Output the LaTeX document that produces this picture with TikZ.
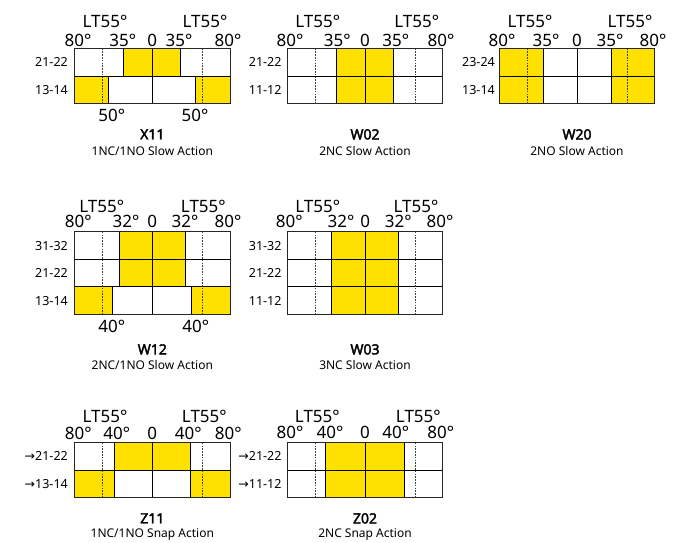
\documentclass[tikz,border=0pt]{standalone}
\usepackage{fontspec}
\setmainfont{Noto Sans}
\newfontfamily\arrowfont{DejaVu Sans}
\newfontfamily\titlefont{Noto Sans}[FakeBold=2.5]
\definecolor{yel}{RGB}{255,225,0}
\tikzset{
 yc/.style={fill=yel,draw=black,line width=0.9pt},
 frame/.style={draw=black!85,line width=0.9pt},
 gridl/.style={draw=black,line width=0.9pt},
 dots/.style={draw=black!75,line width=0.7pt,dash pattern=on 1.6pt off 1.2pt},
 big/.style={font=\fontsize{17}{17}\selectfont,inner sep=0pt,text depth=0pt},
 rowlab/.style={font=\fontsize{12.5}{12.5}\selectfont,inner sep=0pt,anchor=east,text depth=0pt},
 ttl/.style={font=\titlefont\fontsize{14}{14}\selectfont,inner sep=0pt,text depth=0pt},
 sub/.style={font=\fontsize{12}{12}\selectfont,inner sep=0pt,text depth=0pt},
}
\newcommand{\boxbase}[1]{% #1 = number of rows
  \fill[white] (-77.75,0) rectangle (77.75,#1*27.5);
}
\newcommand{\boxlines}[1]{%
  \draw[gridl] (0,0) -- (0,#1*27.5);
  \foreach \r in {1,...,#1}{\ifnum\r<#1 \draw[gridl] (-77.75,\r*27.5) -- (77.75,\r*27.5);\fi}
  \draw[frame] (-77.75,0) rectangle (77.75,#1*27.5);
  \draw[dots] (-50,0) -- (-50,#1*27.5);
  \draw[dots] (50,0) -- (50,#1*27.5);
}
\begin{document}
\begin{tikzpicture}[x=1pt,y=-1pt]
\useasboundingbox (0,0) rectangle (680,543);
\fill[white] (0,0) rectangle (680,543);

% ---------- X11 ----------
\begin{scope}[shift={(152.3,48.7)}]
  \boxbase{2}
  \draw[yc] (-28.5,0) rectangle (28.5,27.5);
  \draw[yc] (-77.75,27.5) rectangle (-44,55);
  \draw[yc] (43.5,27.5) rectangle (77.75,55);
  \boxlines{2}
\end{scope}
\node[big] (x11a) at (105,21.5) {LT55°};
\node[big] (x11b) at (205,21.5) {LT55°};
\node[big] (x11c) at (78,40) {80°};
\node[big] (x11d) at (122.7,40) {35°};
\node[big] (x11e) at (152.3,40) {0};
\node[big] (x11f) at (179,40) {35°};
\node[big] (x11g) at (228,40) {80°};
\node[rowlab] (x11r1) at (68,62.4) {21-22};
\node[rowlab] (x11r2) at (68,90) {13-14};
\node[big] (x11h) at (111.7,115) {50°};
\node[big] (x11i) at (195,115) {50°};
\node[ttl] (x11t) at (152.3,134.3) {X11};
\node[sub] (x11s) at (152.3,150.7) {1NC/1NO Slow Action};

% ---------- W02 ----------
\begin{scope}[shift={(365,48.7)}]
  \boxbase{2}
  \draw[yc] (-28.5,0) rectangle (28.5,27.5);
  \draw[yc] (-28.5,27.5) rectangle (28.5,55);
  \boxlines{2}
\end{scope}
\node[big] (w02a) at (317.7,21.5) {LT55°};
\node[big] (w02b) at (416.7,21.5) {LT55°};
\node[big] (w02c) at (290,40) {80°};
\node[big] (w02d) at (337.3,40) {35°};
\node[big] (w02e) at (365,40) {0};
\node[big] (w02f) at (395.7,40) {35°};
\node[big] (w02g) at (441,40) {80°};
\node[rowlab] (w02r1) at (281.7,62.4) {21-22};
\node[rowlab] (w02r2) at (281.7,90) {11-12};
\node[ttl] (w02t) at (365,134.3) {W02};
\node[sub] (w02s) at (365,150.7) {2NC Slow Action};

% ---------- W20 ----------
\begin{scope}[shift={(577,48.7)}]
  \boxbase{2}
  \draw[yc] (-77.75,0) rectangle (-34,27.5);
  \draw[yc] (34.5,0) rectangle (77.75,27.5);
  \draw[yc] (-77.75,27.5) rectangle (-34,55);
  \draw[yc] (34.5,27.5) rectangle (77.75,55);
  \boxlines{2}
\end{scope}
\node[big] (w20a) at (530,21.5) {LT55°};
\node[big] (w20b) at (630,21.5) {LT55°};
\node[big] (w20c) at (502,40) {80°};
\node[big] (w20d) at (546,40) {35°};
\node[big] (w20e) at (577,40) {0};
\node[big] (w20f) at (610,40) {35°};
\node[big] (w20g) at (653,40) {80°};
\node[rowlab] (w20r1) at (495,62.4) {23-24};
\node[rowlab] (w20r2) at (495,90) {13-14};
\node[ttl] (w20t) at (577,134.3) {W20};
\node[sub] (w20s) at (577,150.7) {2NO Slow Action};

% ---------- W12 ----------
\begin{scope}[shift={(152.3,231.7)}]
  \boxbase{3}
  \draw[yc] (-33,0) rectangle (33,27.5);
  \draw[yc] (-33,27.5) rectangle (33,55);
  \draw[yc] (-77.75,55) rectangle (-39.6,82.5);
  \draw[yc] (39,55) rectangle (77.75,82.5);
  \boxlines{3}
\end{scope}
\node[big] (w12a) at (101.7,206.5) {LT55°};
\node[big] (w12b) at (203.3,206.5) {LT55°};
\node[big] (w12c) at (78.3,221.7) {80°};
\node[big] (w12d) at (126,221.7) {32°};
\node[big] (w12e) at (152.3,221.7) {0};
\node[big] (w12f) at (185,221.7) {32°};
\node[big] (w12g) at (228,221.7) {80°};
\node[rowlab] (w12r1) at (68,245.5) {31-32};
\node[rowlab] (w12r2) at (68,273) {21-22};
\node[rowlab] (w12r3) at (68,300.5) {13-14};
\node[big] (w12h) at (111.7,326.7) {40°};
\node[big] (w12i) at (195.7,326.7) {40°};
\node[ttl] (w12t) at (152.3,349.3) {W12};
\node[sub] (w12s) at (152.3,365) {2NC/1NO Slow Action};

% ---------- W03 ----------
\begin{scope}[shift={(365,231.7)}]
  \boxbase{3}
  \draw[yc] (-33.3,0) rectangle (33.3,27.5);
  \draw[yc] (-33.3,27.5) rectangle (33.3,55);
  \draw[yc] (-33.3,55) rectangle (33.3,82.5);
  \boxlines{3}
\end{scope}
\node[big] (w03a) at (317.7,206.5) {LT55°};
\node[big] (w03b) at (416,206.5) {LT55°};
\node[big] (w03c) at (289.3,221.7) {80°};
\node[big] (w03d) at (341,221.7) {32°};
\node[big] (w03e) at (365.3,221.7) {0};
\node[big] (w03f) at (398.3,221.7) {32°};
\node[big] (w03g) at (440,221.7) {80°};
\node[rowlab] (w03r1) at (281.7,245.5) {31-32};
\node[rowlab] (w03r2) at (281.7,273) {21-22};
\node[rowlab] (w03r3) at (281.7,300.5) {11-12};
\node[ttl] (w03t) at (365,349.3) {W03};
\node[sub] (w03s) at (365,365) {3NC Slow Action};

% ---------- Z11 ----------
\begin{scope}[shift={(152.3,442.7)}]
  \boxbase{2}
  \draw[yc] (-37.6,0) rectangle (38.4,27.5);
  \draw[yc] (-77.75,27.5) rectangle (-37.6,55);
  \draw[yc] (38.4,27.5) rectangle (77.75,55);
  \boxlines{2}
\end{scope}
\node[big] (z11a) at (105,416.7) {LT55°};
\node[big] (z11b) at (204.3,416.7) {LT55°};
\node[big] (z11c) at (78.3,433) {80°};
\node[big] (z11d) at (116.7,433) {40°};
\node[big] (z11e) at (152.3,433) {0};
\node[big] (z11f) at (188.3,433) {40°};
\node[big] (z11g) at (228.3,433) {80°};
\node[rowlab] (z11r1) at (68,456.4) {{\arrowfont →}21-22};
\node[rowlab] (z11r2) at (68,484) {{\arrowfont →}13-14};
\node[ttl] (z11t) at (152.3,518.3) {Z11};
\node[sub] (z11s) at (152.3,533.3) {1NC/1NO Snap Action};

% ---------- Z02 ----------
\begin{scope}[shift={(365,442.7)}]
  \boxbase{2}
  \draw[yc] (-39.3,0) rectangle (39,27.5);
  \draw[yc] (-39.3,27.5) rectangle (39,55);
  \boxlines{2}
\end{scope}
\node[big] (z02a) at (317.3,416.7) {LT55°};
\node[big] (z02b) at (418.3,416.7) {LT55°};
\node[big] (z02c) at (290,432) {80°};
\node[big] (z02d) at (330,432) {40°};
\node[big] (z02e) at (365,432) {0};
\node[big] (z02f) at (395.7,432) {40°};
\node[big] (z02g) at (440.7,432) {80°};
\node[rowlab] (z02r1) at (281.7,456.4) {{\arrowfont →}21-22};
\node[rowlab] (z02r2) at (281.7,484) {{\arrowfont →}11-12};
\node[ttl] (z02t) at (365,518.3) {Z02};
\node[sub] (z02s) at (365,533.3) {2NC Snap Action};
\end{tikzpicture}
\end{document}
